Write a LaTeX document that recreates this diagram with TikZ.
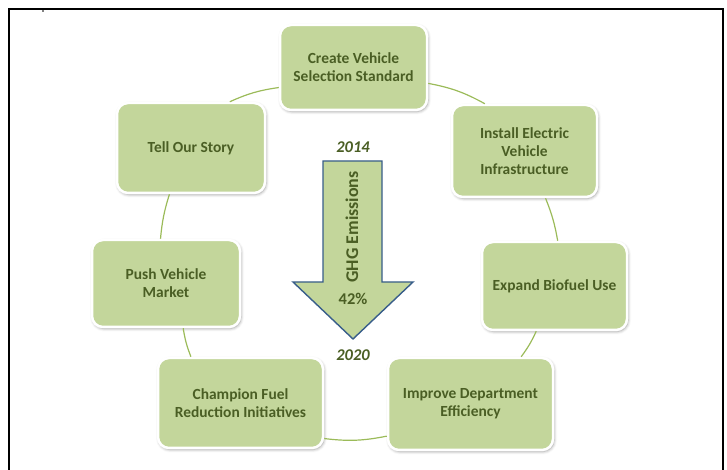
\documentclass[tikz,border=0pt]{standalone}
\usepackage{fontspec}
\setmainfont{Carlito}
\usepackage{xcolor}
\usetikzlibrary{shadows.blur}

\definecolor{boxgreen}{HTML}{C3D69B}
\definecolor{textgreen}{HTML}{4A5E24}
\definecolor{ringgreen}{HTML}{9BBB59}
\definecolor{arrowblue}{HTML}{385D8A}

\begin{document}
\begin{tikzpicture}[
  x=1bp, y=1bp,
  goal/.style={draw=white, line width=2.5bp, rounded corners=11bp, fill=boxgreen,
               minimum width=147bp, minimum height=89bp,
               align=center, text=textgreen, inner sep=2bp,
               font=\fontsize{15.5}{18}\selectfont\bfseries,
               blur shadow={shadow xshift=1bp, shadow yshift=-1.5bp,
                            shadow blur radius=3bp, shadow opacity=40}},
  ring/.style={draw=ringgreen, line width=1.2bp},
  ghgarrow/.style={fill=boxgreen, draw=arrowblue, line width=1.4bp, line join=miter},
  year/.style={font=\fontsize{16.5}{18}\selectfont\bfseries\itshape, text=textgreen},
  label/.style={font=\fontsize{18}{20}\selectfont\bfseries, text=textgreen},
]
\useasboundingbox (0,0) rectangle (727,470);
\clip (0,0) rectangle (727,470);

%% ─── Frame ────────────────────────────────────────────────────────────────────
\draw[line width=2bp] (9,-20) rectangle (723,461);
\fill (43,459) circle (0.8);

%% ─── Ring of goals ────────────────────────────────────────────────────────────
\node[goal, minimum height=85bp]  (create)   at (353.5,402.5) {Create Vehicle\\Selection Standard};
\node[goal, minimum width=145bp, minimum height=92bp] (install) at (524.5,319)
  {Install Electric\\Vehicle\\Infrastructure};
\node[goal, minimum width=145bp, minimum height=88bp] (expand)  at (554.5,184) {Expand Biofuel Use};
\node[goal, minimum width=165bp, minimum height=92bp] (improve) at (470.5,66)
  {Improve Department\\Efficiency};
\node[goal, minimum width=165bp, minimum height=90bp] (champion) at (240.5,67)
  {Champion Fuel\\Reduction Initiatives};
\node[goal, minimum width=148bp, minimum height=87bp] (push)  at (166,186.5) {Push Vehicle\\Market};
\node[goal, minimum width=148bp, minimum height=90bp] (story) at (191,322) {Tell Our Story};

%% clockwise ring
\draw[ring] (story.50)     to[bend left=8]  (create.195);
\draw[ring] (create.348)   to[bend left=9]  (install.130);
\draw[ring] (install.294)  to[bend left=6]  (expand.86);
\draw[ring] (expand.248)   to[bend left=6]  (improve.43);
\draw[ring] (improve.201)  to[bend left=9]  (champion.337);
\draw[ring] (champion.137) to[bend left=6]  (push.291);
\draw[ring] (push.97)      to[bend left=6]  (story.245);

%% ─── Emissions arrow ──────────────────────────────────────────────────────────
\draw[ghgarrow] (323,309) -- (382,309) -- (382,188) -- (413,188)
  -- (353,131) -- (293,188) -- (323,188) -- cycle;
\node[label, rotate=90] (ghg) at (352,243) {GHG Emissions};
\node[label, font=\fontsize{16.5}{18}\selectfont\bfseries] (pct) at (353,171) {42\%};
\node[year] (from) at (353,323) {2014};
\node[year] (to)   at (353,115) {2020};

\end{tikzpicture}
\end{document}
